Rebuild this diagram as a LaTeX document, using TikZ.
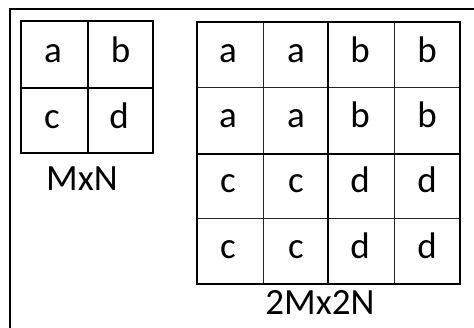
\documentclass[tikz,border=0pt]{standalone}
\usepackage{fontspec}
\setmainfont{Carlito}
\begin{document}
\begin{tikzpicture}[x=1pt,y=-1pt,
  thick line/.style={line width=2.4pt,black},
  thin line/.style={line width=0.9pt,black!85},
  frame line/.style={line width=2.2pt,black},
  letter/.style={anchor=base,inner sep=0pt,font=\fontsize{37}{44}\selectfont},
  caption/.style={anchor=base,inner sep=0pt,font=\fontsize{37}{44}\selectfont}]
\useasboundingbox (0,0) rectangle (474,328);
% outer frame (continues beyond picture)
\coordinate (fa) at (10,328);
\coordinate (fb) at (10,9);
\coordinate (fc) at (474,9);
\draw[frame line] (fa) -- (fb) -- (fc);
% small grid
\draw[thick line] (21,21) rectangle (153,153);
\draw[thick line] (88,21) -- (88,153);
\draw[thick line] (21,88) -- (153,88);
\node[letter] (sa) at (53,62.5) {a};
\node[letter] (sb) at (120.5,62.5) {b};
\node[letter] (sc) at (52,128.5) {c};
\node[letter] (sd) at (119,128.5) {d};
\node[caption] (mxn) at (82,190.5) {MxN};
% large grid
\draw[thin line] (263,22) -- (263,284);
\draw[thin line] (394,22) -- (394,284);
\draw[thin line] (197,87) -- (460,87);
\draw[thin line] (197,218) -- (460,218);
\draw[thick line] (328,22) -- (328,284);
\draw[thick line] (197,154) -- (460,154);
\draw[thick line] (197,22) rectangle (460,284);
\foreach \x/\l/\m [count=\i] in {228/a/c,296/a/c,360/b/d,427/b/d}{
  \node[letter] (r1c\i) at (\x,63) {\l};
  \node[letter] (r2c\i) at (\x,128) {\l};
  \node[letter] (r3c\i) at (\x,193) {\m};
  \node[letter] (r4c\i) at (\x,259) {\m};
}
\node[caption] (big) at (320,315) {2Mx2N};
\end{tikzpicture}
\end{document}
